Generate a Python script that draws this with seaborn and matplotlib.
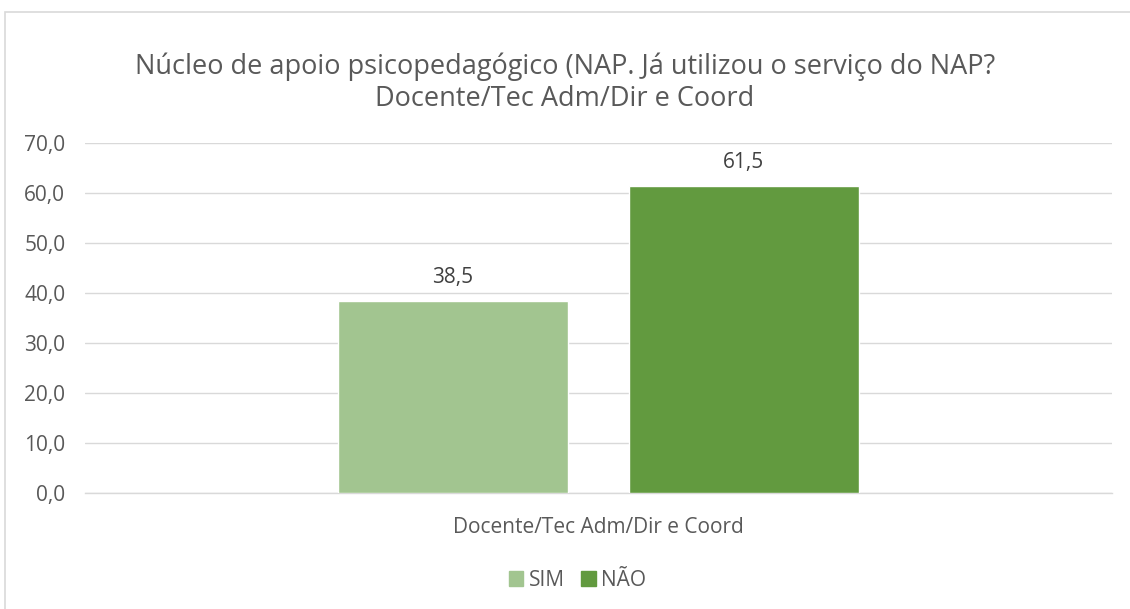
import matplotlib
matplotlib.use("Agg")
import matplotlib.pyplot as plt
import matplotlib.patches as mpatches
import seaborn as sns
import pandas as pd

categories = ["Docente/Tec Adm/Dir e Coord"]
series = ["SIM", "NÃO"]
values_sim = [38.5]
values_nao = [61.5]
colors = ["#a2c590", "#629a3f"]
title = "Núcleo de apoio psicopedagógico (NAP. Já utilizou o serviço do NAP?\nDocente/Tec Adm/Dir e Coord"

df = pd.DataFrame({
    "categoria": categories * 2,
    "resposta": [series[0]] * len(categories) + [series[1]] * len(categories),
    "valor": values_sim + values_nao,
})

sns.set_theme(style="white")
plt.rcParams["font.family"] = ["Open Sans", "DejaVu Sans"]
text_color = "#595959"
grid_color = "#d9d9d9"
fs = 15

fig = plt.figure(figsize=(11.3, 6.09), dpi=100)
ax = fig.add_axes([0.075, 0.190, 0.909, 0.575])

sns.barplot(data=df, x="categoria", y="valor", hue="resposta",
            palette=colors, width=0.567, gap=0.21, ax=ax,
            saturation=1, legend=False, zorder=3)

ax.set_ylim(0, 70)
ax.set_xlim(-0.5, 0.5)
ax.set_yticks(range(0, 71, 10))
ax.set_yticklabels([f"{v:.1f}".replace(".", ",") for v in range(0, 71, 10)],
                   fontsize=fs, color=text_color)
ax.tick_params(axis="x", labelsize=fs, labelcolor=text_color, pad=17, length=0)
ax.tick_params(axis="y", length=0, pad=14)
ax.set_xlabel("")
ax.set_ylabel("")
ax.grid(axis="y", color=grid_color, linewidth=1, zorder=0)
ax.set_axisbelow(True)
for side in ["top", "right", "left"]:
    ax.spines[side].set_visible(False)
ax.spines["bottom"].set_color(grid_color)
ax.spines["bottom"].set_linewidth(1)

for cont in ax.containers:
    labels = [f"{b.get_height():.1f}".replace(".", ",") for b in cont]
    ax.bar_label(cont, labels=labels, padding=9, fontsize=fs, color="#404040")

fig.text(0.5, 0.864, title, ha="center", va="center", fontsize=19.5,
         color=text_color, linespacing=1.15)

handles = [mpatches.Patch(color=c, label=s) for c, s in zip(colors, series)]
fig.legend(handles=handles, loc="center", bbox_to_anchor=(0.511, 0.047), ncol=2,
           frameon=False, fontsize=fs, handlelength=0.7, handleheight=0.7,
           handletextpad=0.25, columnspacing=0.8, labelcolor=text_color)

# chart frame
fig.patches.append(mpatches.Rectangle((5 / 1130, -0.1), 1.2, 1 - 12 / 609 + 0.1,
                                      transform=fig.transFigure, fill=False,
                                      edgecolor="#d9d9d9", linewidth=1.2))

fig.savefig("out.png", dpi=100)
